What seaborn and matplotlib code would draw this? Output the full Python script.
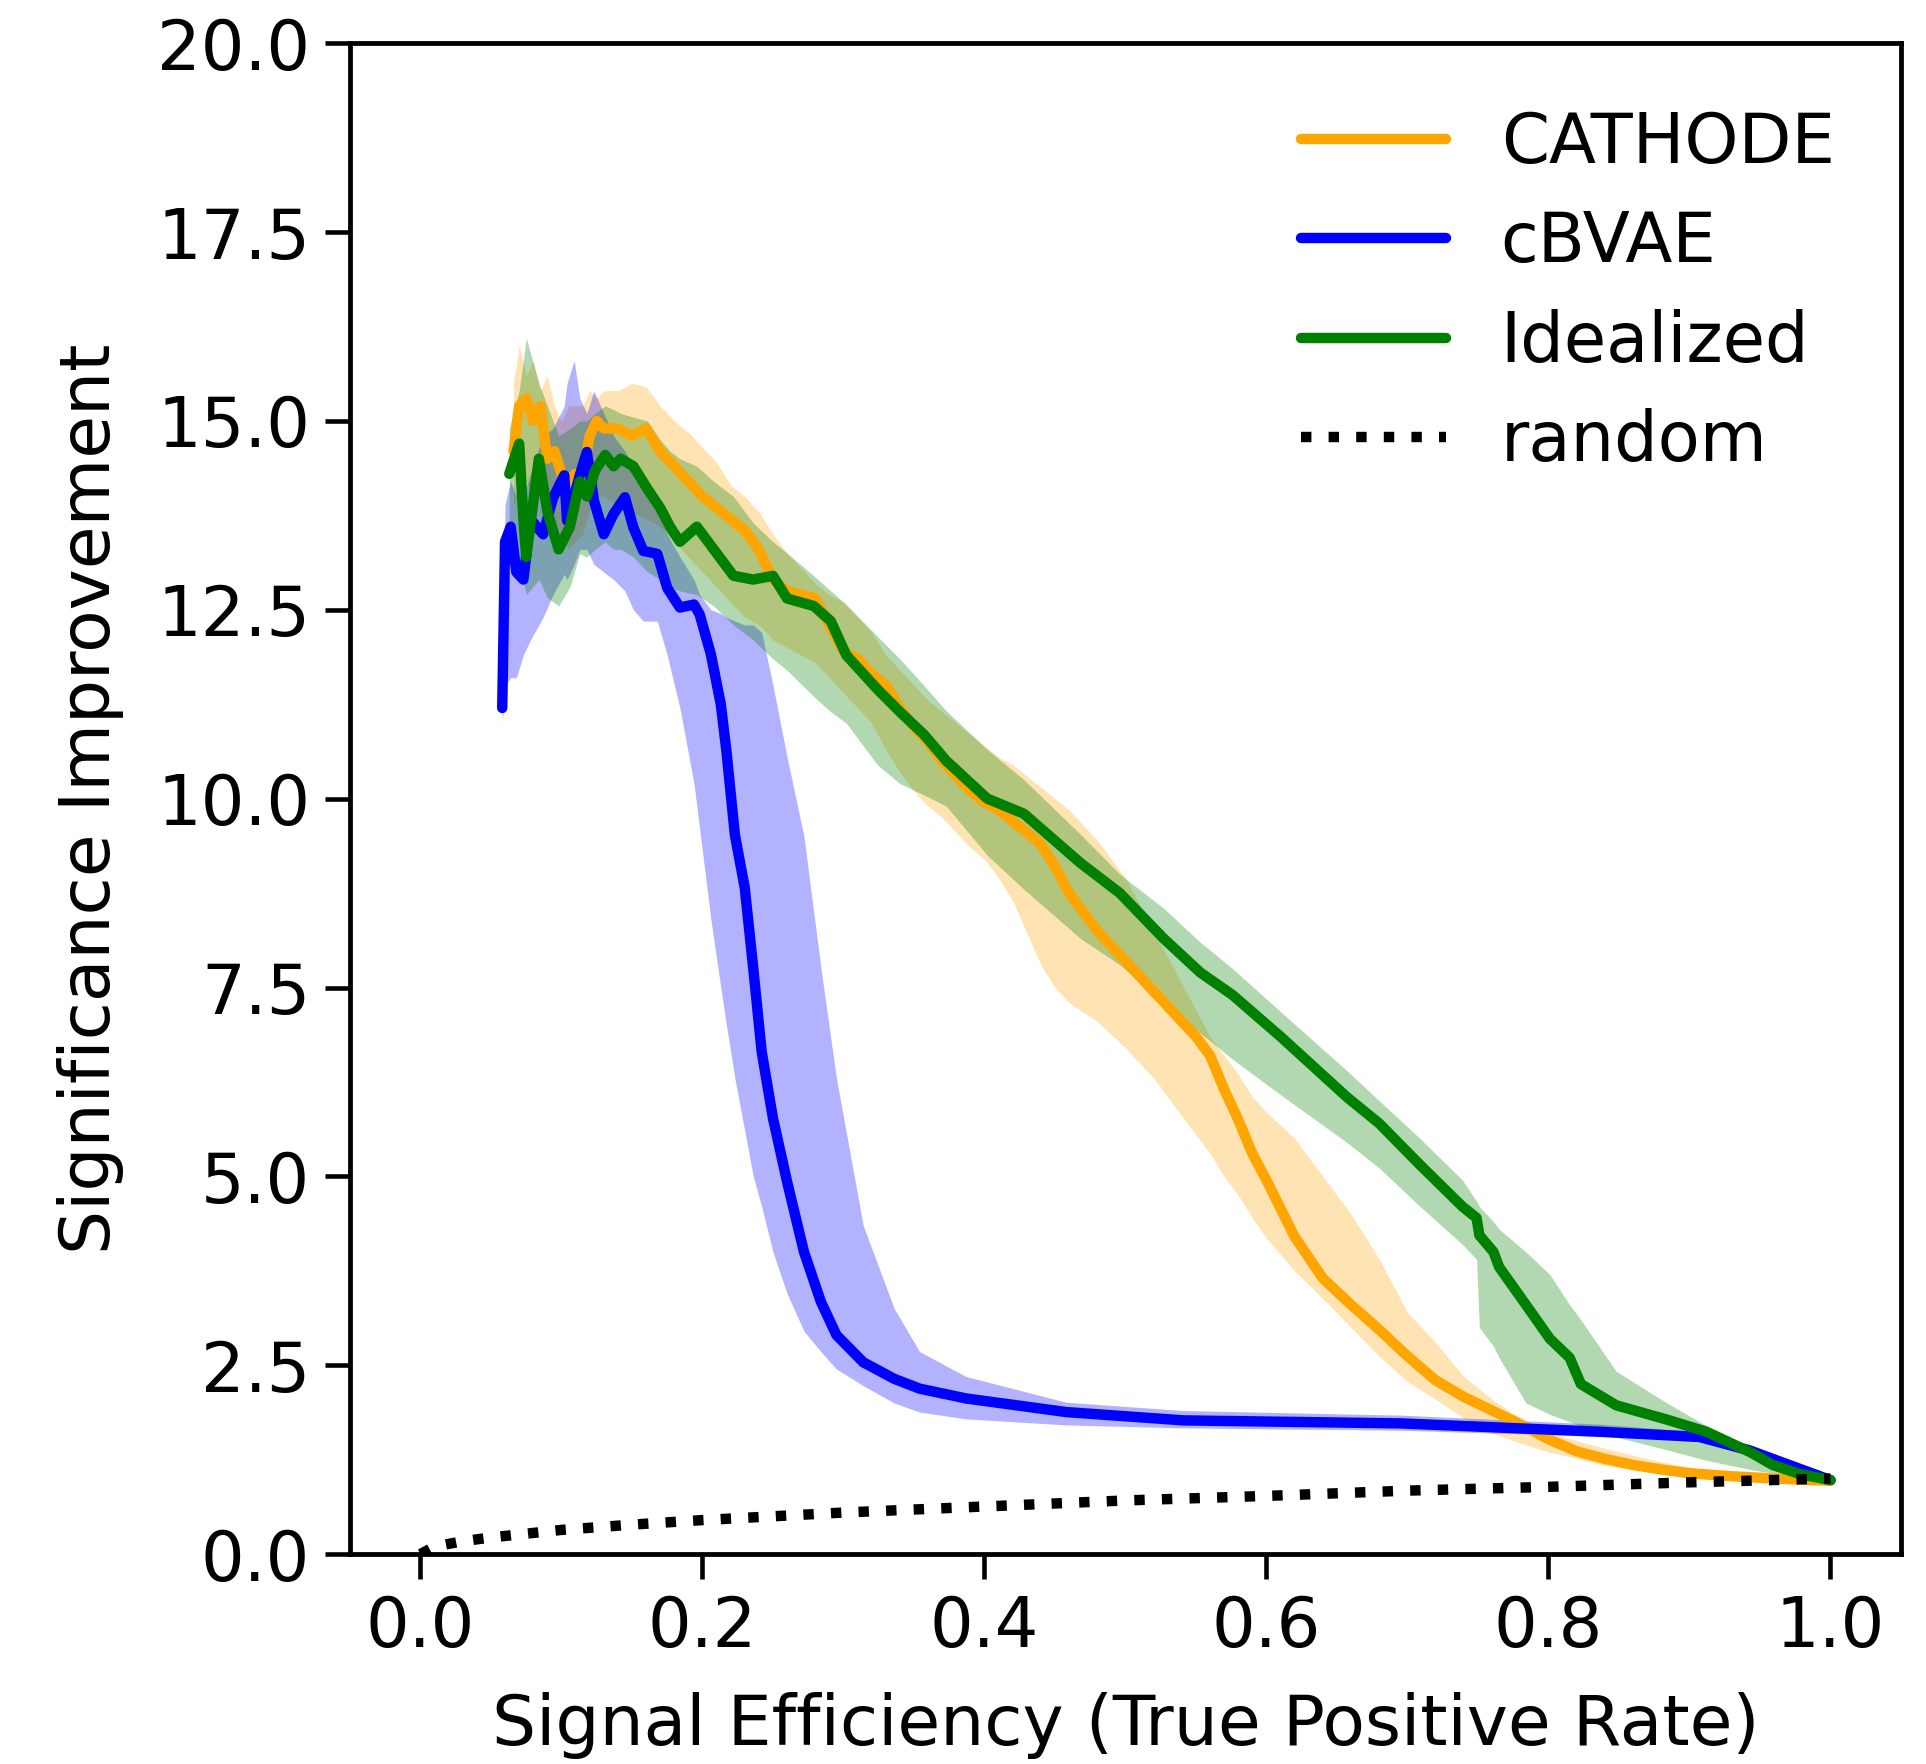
import numpy as np
import pandas as pd
import seaborn as sns
import matplotlib.pyplot as plt

# CATHODE: mean curve and band edges
cath_x = [0.066, 0.07, 0.075, 0.08, 0.085, 0.09, 0.095, 0.10, 0.105, 0.11, 0.115, 0.12, 0.125, 0.13,
          0.14, 0.15, 0.16, 0.17, 0.18, 0.19, 0.20, 0.21, 0.22, 0.23, 0.24, 0.25, 0.26, 0.27, 0.28, 0.29,
          0.30, 0.31, 0.32, 0.33, 0.34, 0.35, 0.36, 0.37, 0.38, 0.39, 0.40, 0.41, 0.42, 0.44, 0.45, 0.46,
          0.48, 0.50, 0.52, 0.54, 0.55, 0.56, 0.57, 0.58, 0.59, 0.60, 0.62, 0.64, 0.66, 0.68, 0.70, 0.72,
          0.74, 0.76, 0.78, 0.80, 0.82, 0.84, 0.86, 0.88, 0.90, 0.93, 0.96, 1.0]
cath_mean = [14.6, 15.2, 15.3, 15.0, 15.2, 14.5, 14.6, 14.3, 14.2, 14.3, 14.3, 14.8, 15.0, 14.9,
             14.9, 14.8, 14.9, 14.6, 14.4, 14.2, 14.0, 13.85, 13.7, 13.55, 13.3, 12.9, 12.75, 12.7, 12.65, 12.3,
             11.95, 11.85, 11.65, 11.5, 11.2, 10.95, 10.75, 10.5, 10.3, 10.1, 9.95, 9.85, 9.7, 9.4, 9.1, 8.75,
             8.25, 7.85, 7.45, 7.05, 6.85, 6.6, 6.15, 5.75, 5.3, 4.95, 4.2, 3.65, 3.3, 2.97, 2.62, 2.3,
             2.08, 1.9, 1.72, 1.52, 1.36, 1.26, 1.18, 1.12, 1.07, 1.03, 1.0, 0.97]
cath_hi = [15.5, 16.0, 15.6, 15.8, 15.4, 15.6, 15.2, 15.0, 15.2, 15.2, 15.2, 15.4, 15.3, 15.4,
           15.4, 15.5, 15.45, 15.2, 15.0, 14.85, 14.65, 14.45, 14.15, 14.0, 13.8, 13.5, 13.25, 13.05, 12.85, 12.7,
           12.6, 12.4, 12.2, 11.9, 11.7, 11.5, 11.3, 11.15, 11.0, 10.85, 10.7, 10.55, 10.45, 10.15, 10.0, 9.85,
           9.45, 8.95, 8.25, 7.55, 7.2, 6.85, 6.6, 6.35, 6.05, 5.85, 5.5, 5.0, 4.5, 3.9, 3.2, 2.8,
           2.35, 2.05, 1.8, 1.62, 1.5, 1.4, 1.31, 1.22, 1.15, 1.06, 1.02, 0.99]
cath_lo = [13.9, 14.0, 14.2, 14.0, 14.0, 13.7, 13.6, 13.5, 13.3, 13.4, 13.5, 13.8, 14.0, 14.0,
           13.9, 13.8, 13.7, 13.6, 13.4, 13.2, 13.0, 12.8, 12.6, 12.4, 12.3, 12.1, 12.0, 11.9, 11.8, 11.6,
           11.4, 11.2, 11.0, 10.65, 10.35, 10.1, 9.9, 9.75, 9.55, 9.35, 9.2, 8.95, 8.65, 7.8, 7.5, 7.3,
           7.05, 6.7, 6.3, 5.8, 5.55, 5.3, 5.0, 4.75, 4.45, 4.18, 3.75, 3.38, 3.0, 2.62, 2.28, 2.05,
           1.8, 1.6, 1.47, 1.35, 1.27, 1.17, 1.12, 1.06, 1.01, 0.98, 0.97, 0.96]

# cBVAE
cbvae_x = [0.058, 0.060, 0.064, 0.068, 0.073, 0.078, 0.087, 0.094, 0.102, 0.104, 0.109, 0.113, 0.118,
           0.123, 0.130, 0.137, 0.145, 0.151, 0.158, 0.168, 0.175, 0.184, 0.194, 0.198, 0.206, 0.213,
           0.217, 0.223, 0.230, 0.236, 0.242, 0.250, 0.260, 0.272, 0.284, 0.295, 0.314, 0.336, 0.354,
           0.387, 0.458, 0.541, 0.695, 0.836, 0.907, 0.943, 0.978, 1.0]
cbvae_mean = [11.2, 13.4, 13.6, 13.0, 12.9, 13.7, 13.5, 13.98, 14.28, 13.68, 14.0, 14.28, 14.59,
              13.95, 13.5, 13.77, 13.99, 13.59, 13.28, 13.24, 12.79, 12.53, 12.57, 12.44, 11.91, 11.25,
              10.63, 9.52, 8.82, 7.76, 6.65, 5.77, 4.93, 4.0, 3.34, 2.9, 2.54, 2.32, 2.19,
              2.06, 1.88, 1.77, 1.73, 1.62, 1.55, 1.37, 1.13, 0.98]
cbvae_hi = [11.4, 13.9, 14.2, 14.0, 14.0, 14.3, 14.8, 14.9, 15.2, 15.5, 15.8, 15.3, 15.1,
            15.4, 15.1, 14.8, 14.6, 14.4, 14.1, 13.8, 13.5, 13.2, 12.9, 12.7, 12.5, 12.45,
            12.4, 12.35, 12.3, 12.3, 12.2, 11.5, 10.55, 9.5, 7.76, 6.3, 4.35, 3.25, 2.68,
            2.35, 2.01, 1.9, 1.84, 1.72, 1.62, 1.45, 1.18, 1.0]
cbvae_lo = [11.0, 11.5, 11.6, 11.6, 11.9, 12.1, 12.4, 12.7, 12.97, 12.9, 13.1, 13.3, 13.3,
            13.1, 13.0, 12.9, 12.75, 12.5, 12.35, 12.35, 11.9, 11.2, 10.2, 9.6, 8.4, 7.5,
            7.0, 6.3, 5.6, 5.0, 4.6, 4.0, 3.45, 2.95, 2.68, 2.45, 2.23, 2.0, 1.88,
            1.79, 1.71, 1.67, 1.64, 1.56, 1.5, 1.3, 1.08, 0.97]

# Idealized
ideal_x = [0.063, 0.070, 0.073, 0.075, 0.084, 0.090, 0.098, 0.106, 0.113, 0.118, 0.124, 0.131, 0.137,
           0.142, 0.151, 0.161, 0.170, 0.177, 0.184, 0.196, 0.208, 0.222, 0.236, 0.250, 0.260, 0.279,
           0.291, 0.302, 0.324, 0.340, 0.357, 0.373, 0.402, 0.428, 0.468, 0.496, 0.527, 0.553, 0.576,
           0.610, 0.657, 0.680, 0.709, 0.739, 0.749, 0.751, 0.761, 0.765, 0.784, 0.801, 0.815, 0.823,
           0.848, 0.884, 0.912, 0.943, 0.959, 0.978, 1.0]
ideal_mean = [14.3, 14.7, 13.7, 13.2, 14.5, 13.8, 13.3, 13.6, 14.2, 14.0, 14.35, 14.55, 14.4,
              14.5, 14.4, 14.1, 13.85, 13.6, 13.4, 13.6, 13.3, 12.95, 12.9, 12.95, 12.65, 12.55,
              12.35, 11.9, 11.45, 11.15, 10.85, 10.5, 10.0, 9.8, 9.15, 8.75, 8.15, 7.7, 7.4,
              6.85, 6.05, 5.7, 5.15, 4.6, 4.45, 4.22, 4.0, 3.8, 3.3, 2.85, 2.6, 2.25,
              1.97, 1.78, 1.62, 1.35, 1.18, 1.06, 0.98]
ideal_hi = [14.9, 15.4, 15.8, 16.1, 15.5, 15.2, 14.8, 14.9, 15.0, 15.0, 15.1, 15.2, 15.15,
            15.1, 15.05, 15.0, 14.75, 14.6, 14.5, 14.4, 14.2, 14.0, 13.65, 13.4, 13.25, 12.95,
            12.75, 12.57, 12.15, 11.85, 11.5, 11.16, 10.65, 10.25, 9.53, 9.0, 8.55, 8.1, 7.75,
            7.18, 6.4, 6.0, 5.5, 4.95, 4.67, 4.6, 4.4, 4.3, 4.0, 3.7, 3.3, 3.1,
            2.42, 2.0, 1.7, 1.4, 1.25, 1.1, 1.0]
ideal_lo = [13.5, 13.2, 12.9, 12.7, 12.9, 12.66, 12.55, 12.8, 13.24, 13.2, 13.3, 13.4, 13.3,
            13.3, 13.2, 13.0, 12.9, 12.8, 12.75, 12.7, 12.55, 12.3, 12.1, 11.85, 11.7, 11.35,
            11.15, 11.0, 10.45, 10.2, 10.05, 9.9, 9.25, 8.8, 8.15, 7.8, 7.3, 6.9, 6.55,
            6.08, 5.45, 5.11, 4.6, 4.1, 3.9, 3.0, 2.75, 2.6, 2.0, 1.85, 1.75, 1.7,
            1.55, 1.38, 1.24, 1.12, 1.07, 1.02, 0.98]

# random classifier
rand_x = [0.0, 0.01, 0.03, 0.05, 0.1, 0.15, 0.2, 0.3, 0.4, 0.5, 0.6, 0.7, 0.8, 0.9, 1.0]
rand_y = [0.0, 0.1, 0.17, 0.22, 0.32, 0.39, 0.45, 0.55, 0.63, 0.71, 0.77, 0.84, 0.89, 0.95, 1.0]

series = [
    ("CATHODE", "orange", cath_x, cath_mean, cath_lo, cath_hi),
    ("cBVAE", "blue", cbvae_x, cbvae_mean, cbvae_lo, cbvae_hi),
    ("Idealized", "green", ideal_x, ideal_mean, ideal_lo, ideal_hi),
]

sns.set_style("ticks")
plt.rcParams['font.family'] = ['DejaVu Sans']
plt.rcParams.update({
    'axes.linewidth': 1.15,
    'axes.edgecolor': 'black',
    'axes.labelcolor': 'black',
    'text.color': 'black',
    'xtick.color': 'black',
    'ytick.color': 'black',
})

fig = plt.figure(figsize=(1927 / 300, 1764 / 300), dpi=300)
ax = fig.add_axes([0.1816, 0.119, 0.8049, 0.8565])

for name, col, x, m, lo, hi in series:
    df = pd.DataFrame({"tpr": x, "si": m})
    sns.lineplot(data=df, x="tpr", y="si", color=col, lw=2.5, label=name, ax=ax, errorbar=None)
    ax.fill_between(x, lo, hi, color=col, alpha=0.3, lw=0)

rdf = pd.DataFrame({"tpr": rand_x, "si": rand_y})
sns.lineplot(data=rdf, x="tpr", y="si", color="black", lw=2.5, ls=":", label="random", ax=ax, errorbar=None)

ax.set_xlim(-0.05, 1.05)
ax.set_ylim(0, 20)
ax.set_yticks(np.arange(0, 20.1, 2.5))
ax.set_xticks(np.arange(0, 1.01, 0.2))
ax.tick_params(labelsize=16.5, length=6, width=1.1)
ax.set_xlabel("Signal Efficiency (True Positive Rate)", fontsize=16.7, labelpad=7.5)
ax.set_ylabel("Significance Improvement", fontsize=16.7, labelpad=8)

ax.legend(loc="upper right", bbox_to_anchor=(0.975, 0.974), borderaxespad=0,
          frameon=False, fontsize=16.5, labelspacing=0.47, handlelength=2.1)

fig.savefig("out.png", dpi=300)
